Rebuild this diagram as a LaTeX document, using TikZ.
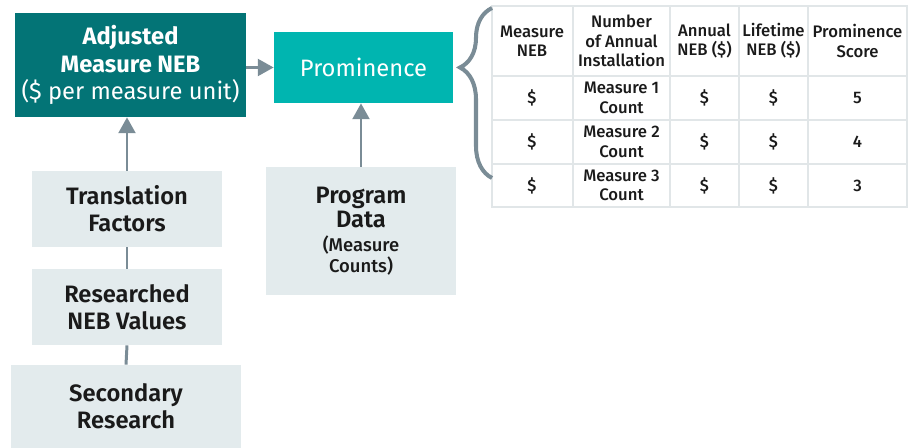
\documentclass[tikz,border=0pt]{standalone}
\usepackage{fontspec}
\setmainfont{Fira Sans}
\newfontfamily\medfont{Fira Sans Medium}
\newfontfamily\semifont{Fira Sans SemiBold}
\usetikzlibrary{arrows.meta,decorations.pathreplacing}
\definecolor{nebteal}{HTML}{037476}
\definecolor{promteal}{HTML}{00B5B0}
\definecolor{boxgray}{HTML}{E3EBED}
\definecolor{linegray}{HTML}{7A8C96}
\definecolor{gridgray}{HTML}{E1E6E8}
\definecolor{inktext}{HTML}{1A1A1A}
\newcommand\subline[1]{{\medfont\mdseries\fontsize{10.5}{12}\selectfont #1}}
\tikzset{
  bigfont/.style={font=\normalfont\fontsize{13.5}{15.5}\selectfont},
  databox/.style={fill=boxgray, text=inktext, font=\semifont\fontsize{13.5}{15.5}\selectfont,
    align=center, inner sep=0pt, minimum width=3.8cm, minimum height=1.52cm},
  flow/.style={draw=linegray, line width=1.7pt, -{Triangle[length=9pt,width=9.5pt]}},
  link/.style={draw=linegray, line width=1.7pt},
  cell/.style={text=inktext, font=\medfont\fontsize{9.5}{11}\selectfont, align=center, inner sep=0pt},
  tablegrid/.style={draw=gridgray, line width=0.9pt},
}
\begin{document}
\begin{tikzpicture}[x=0.02cm, y=-0.02cm]
  \useasboundingbox (0,0) rectangle (917,448);

  % result boxes
  \node [fill=nebteal, text=white, font=\bfseries\fontsize{13.5}{15.5}\selectfont, align=center,
    inner sep=0pt, minimum width=4.62cm, minimum height=2.08cm] (adjusted) at (130.5,65)
    {Adjusted\\Measure NEB\\\mdseries(\$ per measure unit)};
  \node [fill=promteal, text=white, bigfont, inner sep=0pt,
    minimum width=3.58cm, minimum height=1.42cm] (prominence) at (363.5,67.5) {Prominence};

  % inputs
  \node [databox] (translation) at (127,209) {Translation\\Factors};
  \node [databox] (researched) at (127,307) {Researched\\NEB Values};
  \node [databox, minimum width=4.6cm, minimum height=1.66cm] (secondary) at (126,406.5) {Secondary\\Research};
  \node [databox, minimum height=2.56cm] (program) at (361,231)
    {Program\\[-1.5pt]Data\\[-2pt]\subline{(Measure}\\[-3.5pt]\subline{Counts)}};

  % connectors
  \draw [link] (secondary.north) -- (researched.south);
  \draw [link] (researched.north) -- (translation.south);
  \draw [flow] (translation.north) -- (translation.north |- adjusted.south);
  \draw [flow] (adjusted.east |- prominence.west) -- (prominence.west);
  \draw [flow] (program.north) -- (program.north |- prominence.south);

  % table
  \draw [tablegrid] (492,6) rectangle (907,207);
  \foreach \x in {573,670,739,808}
    \draw [tablegrid] (\x,6) -- (\x,207);
  \foreach \y in {76,120,164}
    \draw [tablegrid] (492,\y) -- (907,\y);

  \node [cell] (headneb) at (532,41) {Measure\\NEB};
  \node [cell] (headcount) at (621.5,41) {Number\\of Annual\\Installation};
  \node [cell] (headannual) at (704.5,41) {Annual\\NEB (\$)};
  \node [cell] (headlife) at (773.5,41) {Lifetime\\NEB (\$)};
  \node [cell] (headscore) at (857.5,41) {Prominence\\Score};
  \foreach \y/\n/\s in {98/1/5, 142/2/4, 185.5/3/3} {
    \node [cell] (neb\n) at (532,\y) {\$};
    \node [cell] (count\n) at (621.5,\y) {Measure \n\\Count};
    \node [cell] (annual\n) at (704.5,\y) {\$};
    \node [cell] (life\n) at (773.5,\y) {\$};
    \node [cell] (score\n) at (857.5,\y) {\s};
  }

  % brace
  \draw [linegray, line width=2.3pt, decorate,
    decoration={brace, amplitude=0.64cm, aspect=0.65}] (492,178) -- (492,8);
\end{tikzpicture}
\end{document}
